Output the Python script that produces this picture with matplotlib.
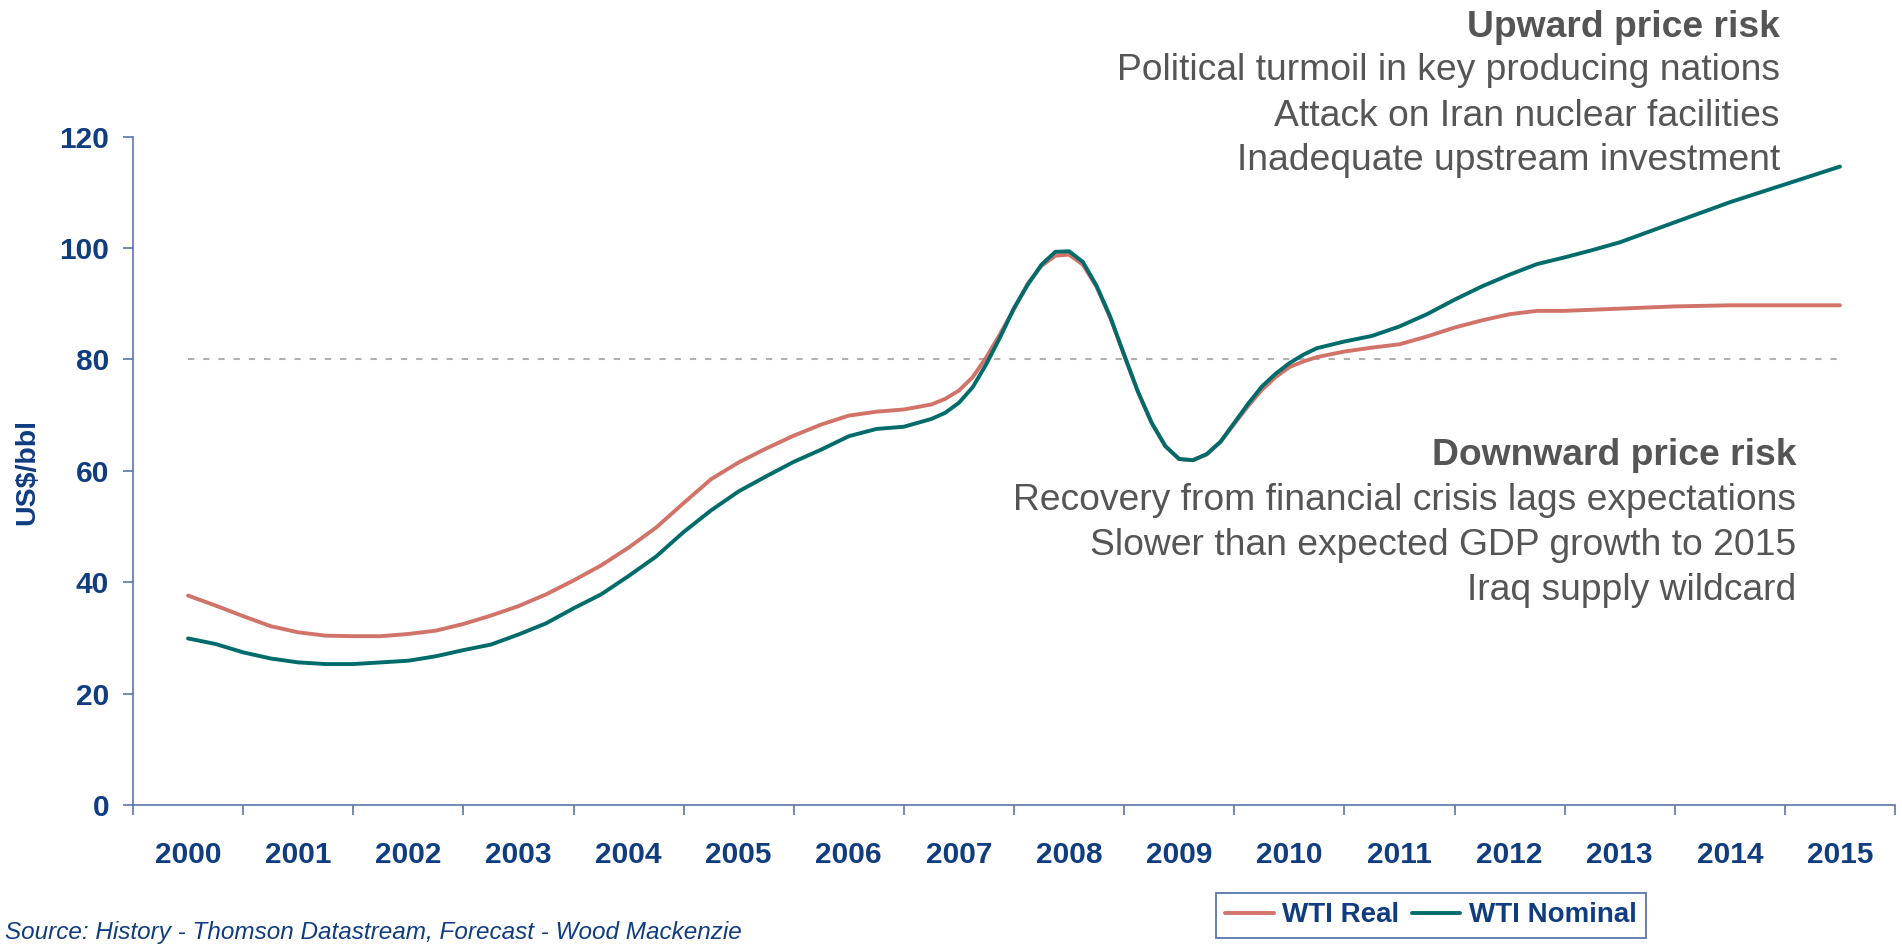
import matplotlib
matplotlib.use("Agg")
import matplotlib.pyplot as plt
from matplotlib.ticker import FixedLocator, NullFormatter, FixedFormatter

# ---------------- data ----------------
year_labels = [str(y) for y in range(2000, 2016)]
label_pos = list(range(2000, 2016))

# decimal-year positions of the data points (quarterly, denser 2006.75-2010.25)
x_years = [2000.00, 2000.25, 2000.50, 2000.75, 2001.00, 2001.25, 2001.50, 2001.75,
           2002.00, 2002.25, 2002.50, 2002.75, 2003.00, 2003.25, 2003.50, 2003.75,
           2004.00, 2004.25, 2004.50, 2004.75, 2005.00, 2005.25, 2005.50, 2005.75,
           2006.00, 2006.25, 2006.50, 2006.75, 2006.875,
           2007.00, 2007.125, 2007.25, 2007.375, 2007.50, 2007.625, 2007.75, 2007.875,
           2008.00, 2008.125, 2008.25, 2008.375, 2008.50, 2008.625, 2008.75, 2008.875,
           2009.00, 2009.125, 2009.25, 2009.375, 2009.50, 2009.625, 2009.75, 2009.875,
           2010.00, 2010.125, 2010.25, 2010.50, 2010.75,
           2011.00, 2011.25, 2011.50, 2011.75, 2012.00, 2012.25, 2012.50, 2012.75,
           2013.00, 2013.25, 2013.50, 2013.75, 2014.00, 2014.25, 2014.50, 2014.75,
           2015.00]

wti_real = [37.6, 35.8, 33.9, 32.1, 31.0, 30.4, 30.3, 30.3,
            30.7, 31.3, 32.5, 34.0, 35.7, 37.8, 40.3, 43.0,
            46.2, 49.8, 54.2, 58.5, 61.5, 64.0, 66.3, 68.3,
            69.9, 70.6, 71.0, 71.9, 72.9,
            74.4, 76.8, 80.4, 84.6, 89.0, 93.6, 96.8, 98.6,
            98.8, 97.0, 93.0, 87.4, 80.8, 74.2, 68.6, 64.4,
            62.1, 61.9, 62.9, 65.2, 68.4, 71.6, 74.5, 76.8,
            78.6, 79.6, 80.4, 81.4, 82.1,
            82.7, 84.1, 85.7, 87.0, 88.1, 88.7, 88.7, 88.9,
            89.1, 89.3, 89.5, 89.6, 89.7, 89.7, 89.7, 89.7,
            89.7]

wti_nominal = [29.9, 28.9, 27.4, 26.3, 25.6, 25.3, 25.3, 25.6,
               25.9, 26.7, 27.8, 28.8, 30.6, 32.6, 35.3, 37.8,
               41.1, 44.6, 49.0, 52.9, 56.3, 59.0, 61.6, 63.8,
               66.2, 67.5, 67.9, 69.3, 70.4,
               72.2, 75.0, 79.2, 84.0, 89.2, 93.4, 97.0, 99.3,
               99.4, 97.5, 93.2, 87.6, 80.8, 74.2, 68.6, 64.4,
               62.1, 61.9, 63.0, 65.2, 68.6, 72.0, 75.1, 77.4,
               79.3, 80.8, 82.0, 83.2, 84.2,
               85.9, 88.1, 90.7, 93.1, 95.2, 97.1, 98.3, 99.6,
               101.0, 102.8, 104.6, 106.4, 108.2, 109.8, 111.4, 113.0,
               114.6]

ref_level = 80
y_ticks = [0, 20, 40, 60, 80, 100, 120]

series_names = ["WTI Real", "WTI Nominal"]

upward_title = "Upward price risk"
upward_items = ["Political turmoil in key producing nations",
                "Attack on Iran nuclear facilities",
                "Inadequate upstream investment"]
downward_title = "Downward price risk"
downward_items = ["Recovery from financial crisis lags expectations",
                  "Slower than expected GDP growth to 2015",
                  "Iraq supply wildcard"]
source_text = "Source: History - Thomson Datastream, Forecast - Wood Mackenzie"

# ---------------- styling ----------------
NAVY = "#103c80"
SPINE = "#5a76aa"
RED = "#d17369"
TEAL = "#006b6b"
GRAY = "#555555"
FONT = "Liberation Sans"

plt.rcParams["font.family"] = [FONT, "DejaVu Sans"]

W, H = 1902, 948
fig = plt.figure(figsize=(W / 100, H / 100), dpi=100)
ax = fig.add_axes([133 / W, 1 - 805 / H, (1895 - 133) / W, (805 - 136.5) / H])

ax.hlines(ref_level, x_years[0], x_years[-1], colors="#b0b0b0",
          linestyles=(0, (3, 4.3)), linewidth=1.5, zorder=1)

l_real, = ax.plot(x_years, wti_real, color=RED, lw=2.8, zorder=3,
                  solid_joinstyle="round", solid_capstyle="round")
l_nom, = ax.plot(x_years, wti_nominal, color=TEAL, lw=2.8, zorder=4,
                 solid_joinstyle="round", solid_capstyle="round")

ax.set_xlim(label_pos[0] - 0.5, label_pos[-1] + 0.5)
ax.set_ylim(y_ticks[0], y_ticks[-1])

# x axis: tick marks between categories, labels at the category centres
boundaries = [p - 0.5 for p in label_pos] + [label_pos[-1] + 0.5]
ax.xaxis.set_major_locator(FixedLocator(boundaries))
ax.xaxis.set_major_formatter(NullFormatter())
ax.xaxis.set_minor_locator(FixedLocator(label_pos))
ax.xaxis.set_minor_formatter(FixedFormatter(year_labels))
ax.tick_params(axis="x", which="major", direction="out", length=7.2,
               width=1.2, color=SPINE)
ax.tick_params(axis="x", which="minor", length=0, pad=26,
               labelsize=21.5, labelcolor=NAVY)
for t in ax.xaxis.get_minorticklabels():
    t.set_fontweight("bold")

ax.set_yticks(y_ticks)
ax.tick_params(axis="y", direction="out", length=7.2, width=1.2, color=SPINE,
               pad=10, labelsize=21.5, labelcolor=NAVY)
for t in ax.get_yticklabels():
    t.set_fontweight("bold")

for s in ("top", "right"):
    ax.spines[s].set_visible(False)
for s in ("left", "bottom"):
    ax.spines[s].set_color(SPINE)
    ax.spines[s].set_linewidth(1.2)

fig.text(27 / W, 1 - 472 / H, "US$/bbl", rotation=90, ha="center", va="center",
         fontsize=20.5, fontweight="bold", color=NAVY)

# annotation blocks
up_base = [36.7, 80, 125.5, 170]
for i, txt in enumerate([upward_title] + upward_items):
    fig.text(1780 / W, 1 - up_base[i] / H, txt, ha="right", va="baseline",
             fontsize=26.8, color=GRAY, fontweight="bold" if i == 0 else "normal")
down_base = [465, 510, 555, 600]
for i, txt in enumerate([downward_title] + downward_items):
    fig.text(1796 / W, 1 - down_base[i] / H, txt, ha="right", va="baseline",
             fontsize=26.8, color=GRAY, fontweight="bold" if i == 0 else "normal")

fig.text(5 / W, 1 - 938.5 / H, source_text, ha="left", va="baseline",
         fontsize=17.5, style="italic", color=NAVY)

leg = fig.legend([l_real, l_nom], series_names, loc="center",
                 bbox_to_anchor=(1431 / W, 1 - 915.5 / H), ncol=2,
                 prop={"family": FONT, "weight": "bold", "size": 20},
                 handlelength=1.75, handletextpad=0.3, columnspacing=0.45,
                 borderpad=0.35, fancybox=False, framealpha=1,
                 edgecolor=SPINE, borderaxespad=0)
for t in leg.get_texts():
    t.set_color(NAVY)
leg.get_frame().set_linewidth(1.3)

fig.savefig("out.png", dpi=100)
